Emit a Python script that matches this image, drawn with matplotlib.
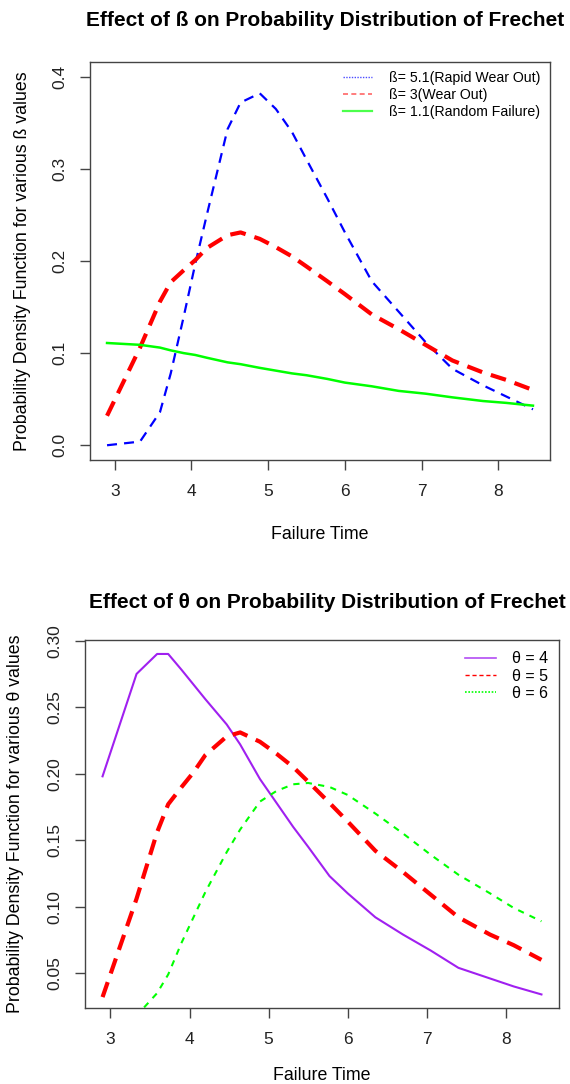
import numpy as np
import matplotlib
matplotlib.use("Agg")
import matplotlib.pyplot as plt
from matplotlib.lines import Line2D

plt.rcParams['font.family'] = ['Liberation Sans', 'DejaVu Sans']

# failure times (shared grid)
t = [2.90, 3.33, 3.59, 3.73, 3.90, 4.05, 4.20, 4.47, 4.64, 4.89, 5.10,
     5.31, 5.50, 5.77, 6.00, 6.35, 6.70, 7.05, 7.40, 7.80, 8.10, 8.45]

# top panel: different beta
beta51 = [0.000, 0.004, 0.036, 0.078, 0.140, 0.197, 0.250, 0.343, 0.372, 0.382, 0.365,
          0.340, 0.310, 0.268, 0.231, 0.178, 0.145, 0.112, 0.083, 0.065, 0.053, 0.039]
beta3 = [0.032, 0.106, 0.156, 0.177, 0.190, 0.201, 0.214, 0.228, 0.231, 0.224, 0.215,
         0.205, 0.194, 0.178, 0.164, 0.142, 0.126, 0.109, 0.092, 0.079, 0.071, 0.060]
beta11 = [0.111, 0.109, 0.106, 0.103, 0.100, 0.098, 0.095, 0.090, 0.088, 0.084, 0.081,
          0.078, 0.076, 0.072, 0.068, 0.064, 0.059, 0.056, 0.052, 0.048, 0.046, 0.043]

# bottom panel: different theta
theta4 = [0.198, 0.275, 0.290, 0.290, 0.278, 0.267, 0.256, 0.237, 0.222, 0.196, 0.178,
          0.160, 0.145, 0.123, 0.110, 0.092, 0.079, 0.067, 0.054, 0.046, 0.040, 0.034]
theta5 = beta3
theta6 = [0.004, 0.018, 0.035, 0.049, 0.073, 0.092, 0.111, 0.141, 0.158, 0.179, 0.187,
          0.192, 0.193, 0.190, 0.184, 0.170, 0.155, 0.139, 0.124, 0.110, 0.099, 0.089]

fig = plt.figure(figsize=(5.7, 10.84), dpi=100)

def style(ax):
    for s in ax.spines.values():
        s.set_color('#444444')
        s.set_linewidth(1)
    ax.tick_params(length=7, width=1, color='#444444', labelsize=12.5, labelcolor='#222222')
    ax.tick_params(axis='x', pad=10)
    ax.tick_params(axis='y', pad=9, labelrotation=90)
    for lab in ax.get_yticklabels():
        lab.set_va('center')

# ---- top ----
ax1 = fig.add_axes([90/570, 1-460/1084, 460/570, 398/1084])
ax1.plot(t, beta51, color='blue', lw=1.6, ls=(0, (4.5, 3.2)))
ax1.plot(t, beta3, color='red', lw=3, ls=(0, (3.8, 2.2)))
ax1.plot(t, beta11, color='#00FF00', lw=1.8)
ax1.set_xlim(2.678, 8.672)
ax1.set_ylim(-0.016, 0.416)
ax1.set_xticks([3, 4, 5, 6, 7, 8])
ax1.set_yticks([0.0, 0.1, 0.2, 0.3, 0.4])
ax1.set_yticklabels(['0.0', '0.1', '0.2', '0.3', '0.4'])
style(ax1)
ax1.set_xlabel('Failure Time', fontsize=12.8, labelpad=20)
ax1.set_ylabel('Probability Density Function for various ß values', fontsize=12.8, labelpad=16)
h1 = [Line2D([], [], color='blue', lw=1, ls=(0, (1, 1)), alpha=0.7),
      Line2D([], [], color='red', lw=1.2, ls=(0, (3, 2)), alpha=0.6),
      Line2D([], [], color='#00FF00', lw=1.6, alpha=0.7)]
ax1.legend(h1, ['ß= 5.1(Rapid Wear Out)', 'ß= 3(Wear Out)', 'ß= 1.1(Random Failure)'],
           loc='upper right', frameon=False, fontsize=10.2, handlelength=2.1,
           handletextpad=1.2, labelspacing=0.22, borderaxespad=0.25)
fig.text(325/570, 1-21/1084, 'Effect of ß on Probability Distribution of Frechet',
         ha='center', va='center', fontsize=15, fontweight='bold')

# ---- bottom ----
ax2 = fig.add_axes([85/570, 1-1008/1084, 474/570, 368/1084])
ax2.plot(t, theta4, color='#A020F0', lw=1.5)
ax2.plot(t, theta5, color='red', lw=3, ls=(0, (3.8, 2.2)))
ax2.plot(t, theta6, color='#00FF00', lw=1.5, ls=(0, (3.0, 3.0)))
ax2.set_xlim(2.678, 8.672)
ax2.set_ylim(0.0238, 0.3005)
ax2.set_xticks([3, 4, 5, 6, 7, 8])
ax2.set_yticks([0.05, 0.10, 0.15, 0.20, 0.25, 0.30])
ax2.set_yticklabels(['0.05', '0.10', '0.15', '0.20', '0.25', '0.30'])
style(ax2)
ax2.set_xlabel('Failure Time', fontsize=12.8, labelpad=15)
ax2.set_ylabel('Probability Density Function for various θ values', fontsize=12.8, labelpad=17)
h2 = [Line2D([], [], color='#A020F0', lw=1.2, alpha=0.8),
      Line2D([], [], color='red', lw=1.0, ls=(0, (3, 2))),
      Line2D([], [], color='#00FF00', lw=1.2, ls=(0, (1, 1)))]
ax2.legend(h2, ['θ = 4', 'θ = 5', 'θ = 6'],
           loc='upper right', frameon=False, fontsize=11.5, handlelength=1.9,
           handletextpad=1.0, labelspacing=0.15, borderaxespad=0.3)
fig.text(327/570, 1-602/1084, 'Effect of θ on Probability Distribution of Frechet',
         ha='center', va='center', fontsize=15, fontweight='bold')

fig.savefig('out.png', dpi=100)
